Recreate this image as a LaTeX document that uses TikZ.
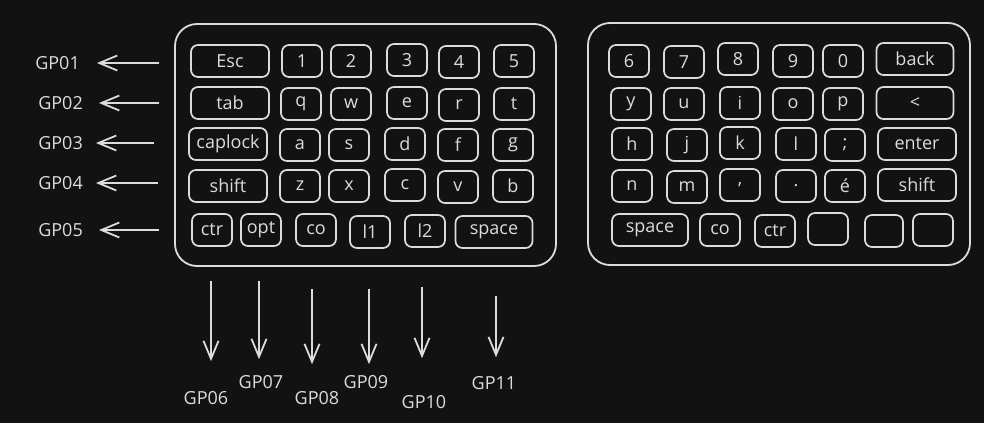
\documentclass[tikz,border=0pt]{standalone}
\usepackage{fontspec}
\setmainfont{Open Sans}
\usetikzlibrary{arrows.meta}

\definecolor{bgcol}{HTML}{121212}
\definecolor{inkcol}{HTML}{DCDCDC}

\tikzset{
    key/.style={draw=inkcol, line width=1.7pt, rounded corners=7pt,
        minimum width=40pt, minimum height=32pt, inner sep=0pt, text=inkcol},
    wkey/.style={key, minimum width=78pt},
    board/.style={draw=inkcol, line width=1.8pt, rounded corners=22pt},
    gplabel/.style={text=inkcol, inner sep=0pt},
    arr/.style={draw=inkcol, line width=1.8pt, -{Straight Barb[length=18pt,width=15pt]}}
}

\begin{document}
\begin{tikzpicture}[x=1pt, y=-1pt, font=\fontsize{18}{21}\selectfont]
        \fill[bgcol] (0,0) rectangle (984,423);
        % left half
        \draw[board] (175,24) rectangle (556,266);
        \node[wkey] (esc) at (230,61) {Esc};
        \node[key] (k1) at (302,61) {1};
        \node[key] (k2) at (351,61) {2};
        \node[key] (k3) at (407,60) {3};
        \node[key] (k4) at (459,62) {4};
        \node[key] (k5) at (514,61) {5};
        \node[wkey] (tab) at (230,103) {tab};
        \node[key] (kq) at (301,104) {q};
        \node[key] (kw) at (351,104) {w};
        \node[key] (ke) at (407,103) {e};
        \node[key] (kr) at (459,105) {r};
        \node[key] (kt) at (514,104) {t};
        \node[wkey] (caplock) at (228,144) {caplock};
        \node[key] (ka) at (300,145) {a};
        \node[key] (ks) at (349,145) {s};
        \node[key] (kd) at (405,144) {d};
        \node[key] (kf) at (458,145) {f};
        \node[key] (kg) at (513,145) {g};
        \node[wkey] (lshift) at (228,186) {shift};
        \node[key] (kz) at (300,186) {z};
        \node[key] (kx) at (349,186) {x};
        \node[key] (kc) at (405,185) {c};
        \node[key] (kv) at (458,187) {v};
        \node[key] (kb) at (513,186) {b};
        \node[key] (lctr) at (212,230) {ctr};
        \node[key] (opt) at (261,230) {opt};
        \node[key] (lco) at (316,230) {co};
        \node[key] (layer1) at (370,232) {l1};
        \node[key] (layer2) at (425,231) {l2};
        \node[key, minimum width=77pt] (lspace) at (494,232) {space};
        % right half
        \draw[board] (588,23) rectangle (970,265);
        \node[key] (k6) at (629,61) {6};
        \node[key] (k7) at (684,62) {7};
        \node[key] (k8) at (738,59) {8};
        \node[key] (k9) at (793,61) {9};
        \node[key] (k0) at (843,61) {0};
        \node[key, minimum width=77pt] (back) at (915,59) {back};
        \node[key] (ky) at (631,104) {y};
        \node[key] (ku) at (684,104) {u};
        \node[key] (ki) at (740,103) {i};
        \node[key] (ko) at (793,104) {o};
        \node[key] (kp) at (843,104) {p};
        \node[key, minimum width=77pt] (larrow) at (915,103) {<};
        \node[key] (kh) at (632,144) {h};
        \node[key] (kj) at (687,145) {j};
        \node[key] (kk) at (740,143) {k};
        \node[key] (kl) at (796,144) {l};
        \node[key] (ksemi) at (845,145) {;};
        \node[wkey] (enter) at (917,144) {enter};
        \node[key] (kn) at (632,186) {n};
        \node[key] (km) at (687,187) {m};
        \node[key] (kcomma) at (740,185) {,};
        \node[key] (kdot) at (796,186) {.};
        \node[key] (keacute) at (845,186) {é};
        \node[wkey] (rshift) at (917,185) {shift};
        \node[key, minimum width=76pt] (rspace) at (650,230) {space};
        \node[key] (rco) at (720,230) {co};
        \node[key] (rctr) at (775,231) {ctr};
        \node[key] (blank1) at (828,229) {};
        \node[key, minimum width=38pt] (blank2) at (884,231) {};
        \node[key] (blank3) at (933,230) {};
        % row pins
        \node[gplabel, anchor=east] (gp1) at (80,63) {GP01};
        \node[gplabel, anchor=east] (gp2) at (83,103) {GP02};
        \node[gplabel, anchor=east] (gp3) at (83,143) {GP03};
        \node[gplabel, anchor=east] (gp4) at (83,183) {GP04};
        \node[gplabel, anchor=east] (gp5) at (83,230) {GP05};
        \coordinate (r1) at (159,63);
        \coordinate (r2) at (159,103);
        \coordinate (r3) at (154,143);
        \coordinate (r4) at (158,183);
        \coordinate (r5) at (159,230);
        \draw[arr, shorten >=17pt] (r1) -- (gp1.east);
        \draw[arr, shorten >=16pt] (r2) -- (gp2.east);
        \draw[arr, shorten >=13pt] (r3) -- (gp3.east);
        \draw[arr, shorten >=13pt] (r4) -- (gp4.east);
        \draw[arr, shorten >=16pt] (r5) -- (gp5.east);
        % column pins
        \node[gplabel] (gp6) at (206,398) {GP06};
        \node[gplabel] (gp7) at (261,382) {GP07};
        \node[gplabel] (gp8) at (317,398) {GP08};
        \node[gplabel] (gp9) at (366,382) {GP09};
        \node[gplabel] (gp10) at (424,402) {GP10};
        \node[gplabel] (gp11) at (494,383) {GP11};
        \coordinate (c6) at (211,281);
        \coordinate (c7) at (259,281);
        \coordinate (c8) at (312,289);
        \coordinate (c9) at (369,289);
        \coordinate (c10) at (422,287);
        \coordinate (c11) at (496,296);
        \draw[arr, shorten >=30pt] (c6) -- (c6 |- gp6.north);
        \draw[arr, shorten >=16pt] (c7) -- (c7 |- gp7.north);
        \draw[arr, shorten >=27pt] (c8) -- (c8 |- gp8.north);
        \draw[arr, shorten >=11pt] (c9) -- (c9 |- gp9.north);
        \draw[arr, shorten >=37pt] (c10) -- (c10 |- gp10.north);
        \draw[arr, shorten >=19pt] (c11) -- (c11 |- gp11.north);
    \end{tikzpicture}
\end{document}
